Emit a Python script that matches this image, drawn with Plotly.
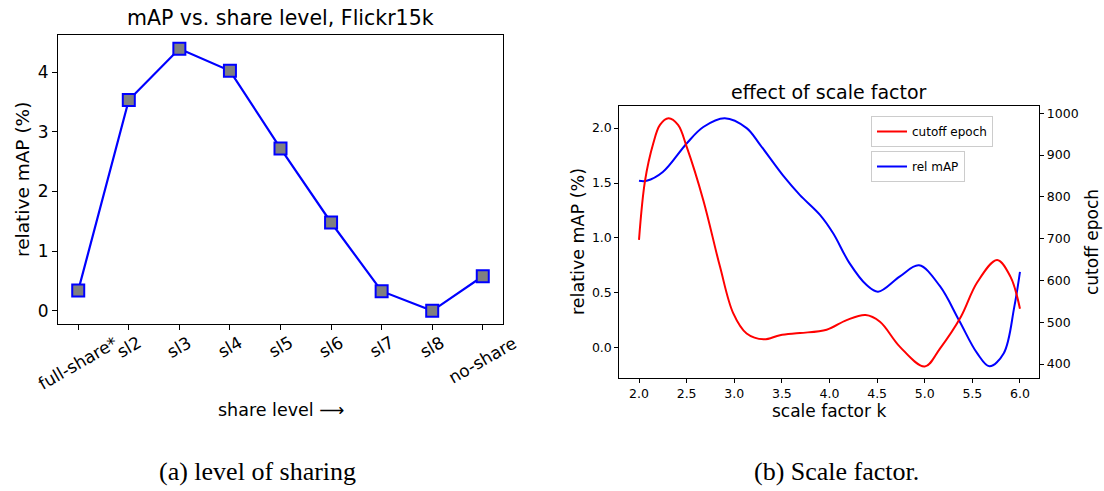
import plotly.graph_objects as go

# ---------------- data ----------------
share_levels = ["full-share*", "sl2", "sl3", "sl4", "sl5", "sl6", "sl7", "sl8", "no-share"]
rel_map_share = [0.34, 3.53, 4.39, 4.02, 2.72, 1.48, 0.33, 0.0, 0.58]

k_map = [2.0, 2.08, 2.25, 2.5, 2.675, 2.9, 3.13, 3.27, 3.52, 3.69, 3.9, 4.04, 4.21,
         4.39, 4.51, 4.74, 4.94, 5.16, 5.36, 5.55, 5.68, 5.83, 5.94, 6.0]
rel_map = [1.52, 1.52, 1.60, 1.86, 2.01, 2.09, 2.0, 1.85, 1.56, 1.39, 1.21, 1.04, 0.77,
           0.57, 0.51, 0.65, 0.75, 0.56, 0.25, -0.05, -0.17, -0.05, 0.37, 0.69]

k_epoch = [2.0, 2.063, 2.15, 2.22, 2.31, 2.41, 2.5, 2.675, 2.85, 2.99, 3.13, 3.31,
           3.48, 3.69, 3.97, 4.18, 4.38, 4.53, 4.74, 5.0, 5.16, 5.38, 5.55, 5.76, 5.9, 6.0]
cutoff_epoch = [697, 838, 928, 972, 988, 972, 920, 792, 633, 521, 473, 459,
                469, 474, 482, 505, 517, 501, 441, 394, 437, 513, 595, 649, 609, 532]

left_yticks = [0, 1, 2, 3, 4]
right_xticks = [2.0, 2.5, 3.0, 3.5, 4.0, 4.5, 5.0, 5.5, 6.0]
right_yticks = [0.0, 0.5, 1.0, 1.5, 2.0]
epoch_ticks = [400, 500, 600, 700, 800, 900, 1000]

W, H = 1104, 491
FONT = "DejaVu Sans"

def px(x):
    return x / W

def py(y):
    return 1 - y / H

fig = go.Figure()

# left chart
fig.add_trace(go.Scatter(
    x=share_levels, y=rel_map_share, mode="lines+markers",
    line=dict(color="blue", width=2.2),
    marker=dict(symbol="square", size=12, color="gray", line=dict(color="blue", width=2)),
    xaxis="x", yaxis="y", showlegend=False))

# right chart
fig.add_trace(go.Scatter(
    x=k_map, y=rel_map, mode="lines", name="rel mAP",
    line=dict(color="blue", width=2, shape="spline", smoothing=1.0),
    xaxis="x2", yaxis="y2", legend="legend2"))
fig.add_trace(go.Scatter(
    x=k_epoch, y=cutoff_epoch, mode="lines", name="cutoff epoch",
    line=dict(color="red", width=2, shape="spline", smoothing=1.0),
    xaxis="x2", yaxis="y3", legend="legend"))

axis_common = dict(showline=True, linecolor="black", linewidth=1, mirror=True,
                   showgrid=False, zeroline=False, ticks="outside", tickcolor="black",
                   tickwidth=1)

fig.update_layout(
    width=W, height=H,
    margin=dict(l=0, r=0, t=0, b=0),
    paper_bgcolor="white", plot_bgcolor="white",
    font=dict(family=FONT, color="black"),
    xaxis=dict(axis_common, domain=[px(58), px(503)], type="category",
               categoryorder="array", categoryarray=share_levels,
               range=[-0.4, 8.4], tickvals=share_levels, showticklabels=False,
               ticklen=5, anchor="y"),
    yaxis=dict(axis_common, domain=[py(324), py(35)], range=[-0.22, 4.62],
               tickvals=left_yticks, ticklen=5, tickfont=dict(size=17, family=FONT),
               anchor="x"),
    xaxis2=dict(axis_common, domain=[px(619.3), px(1039.3)], range=[1.793, 6.203],
                tickvals=right_xticks, tickformat=".1f", ticklen=4,
                tickfont=dict(size=12.5, family=FONT), anchor="y2"),
    yaxis2=dict(axis_common, domain=[py(378), py(105.7)], range=[-0.276, 2.204],
                tickvals=right_yticks, tickformat=".1f", ticklen=4,
                tickfont=dict(size=12.5, family=FONT), anchor="x2"),
    yaxis3=dict(showline=True, linecolor="black", linewidth=1, showgrid=False,
                zeroline=False, ticks="outside", tickcolor="black", ticklen=4,
                overlaying="y2", side="right", anchor="x2",
                range=[366.5, 1018], tickvals=epoch_ticks,
                tickfont=dict(size=12.5, family=FONT)),
    legend=dict(x=px(871), y=py(116), xanchor="left", yanchor="top",
                bgcolor="white", bordercolor="#cccccc", borderwidth=1,
                font=dict(size=12, family=FONT), itemwidth=30,
                tracegroupgap=0),
    legend2=dict(x=px(871), y=py(151), xanchor="left", yanchor="top",
                 bgcolor="white", bordercolor="#cccccc", borderwidth=1,
                 font=dict(size=12, family=FONT), itemwidth=30,
                 tracegroupgap=0),
)

annotations = []
# rotated category labels for left chart
for lab in share_levels:
    annotations.append(dict(text=lab, x=lab, xref="x", y=py(330), yref="paper",
                            xanchor="center", yanchor="top", textangle=-30,
                            showarrow=False, font=dict(size=17, family=FONT)))

# titles
annotations += [
    dict(text="mAP vs. share level, Flickr15k", x=px(280.5), y=py(18), xref="paper", yref="paper",
         xanchor="center", yanchor="middle", showarrow=False, font=dict(size=20.5, family=FONT)),
    dict(text="share level ⟶", x=px(280.5), y=py(410), xref="paper", yref="paper",
         xanchor="center", yanchor="middle", showarrow=False, font=dict(size=17.5, family=FONT)),
    dict(text="relative mAP (%)", x=px(22), y=py(180), xref="paper", yref="paper",
         xanchor="center", yanchor="middle", textangle=-90, showarrow=False,
         font=dict(size=18.5, family=FONT)),
    dict(text="effect of scale factor", x=px(829), y=py(92), xref="paper", yref="paper",
         xanchor="center", yanchor="middle", showarrow=False, font=dict(size=19, family=FONT)),
    dict(text="scale factor k", x=px(829), y=py(411), xref="paper", yref="paper",
         xanchor="center", yanchor="middle", showarrow=False, font=dict(size=17, family=FONT)),
    dict(text="relative mAP (%)", x=px(578), y=py(242), xref="paper", yref="paper",
         xanchor="center", yanchor="middle", textangle=-90, showarrow=False,
         font=dict(size=17.5, family=FONT)),
    dict(text="cutoff epoch", x=px(1092), y=py(242), xref="paper", yref="paper",
         xanchor="center", yanchor="middle", textangle=-90, showarrow=False,
         font=dict(size=17, family=FONT)),
    dict(text="(a) level of sharing", x=px(257), y=py(471), xref="paper", yref="paper",
         xanchor="center", yanchor="middle", showarrow=False,
         font=dict(size=26, family="Liberation Serif")),
    dict(text="(b) Scale factor.", x=px(836), y=py(471), xref="paper", yref="paper",
         xanchor="center", yanchor="middle", showarrow=False,
         font=dict(size=26, family="Liberation Serif")),
]
fig.update_layout(annotations=annotations)

fig.write_html("out.html", config={"displayModeBar": False},
               post_script="document.body.style.margin='0';document.body.style.overflow='hidden';")
